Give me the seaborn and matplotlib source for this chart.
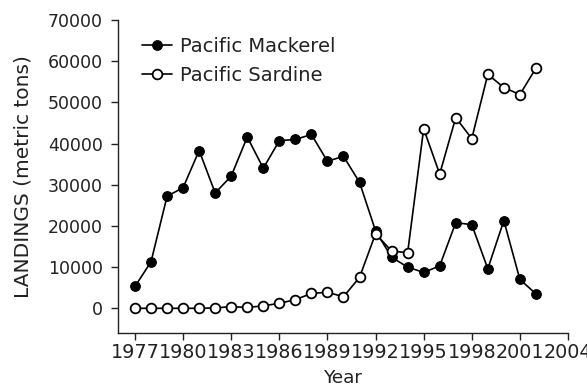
import matplotlib
matplotlib.use("Agg")
import matplotlib.pyplot as plt
import seaborn as sns
import pandas as pd

years = list(range(1977, 2003))
mackerel = [5300, 11300, 27200, 29300, 38300, 28000, 32100, 41600, 34000, 40700,
            41000, 42200, 35700, 36900, 30600, 18800, 12400, 10000, 8700, 10300,
            20800, 20300, 9600, 21300, 7000, 3500]
sardine = [0, 0, 0, 0, 0, 100, 400, 200, 600, 1200,
           2100, 3600, 3900, 2800, 7500, 18100, 13900, 13500, 43600, 32600,
           46300, 41200, 56800, 53600, 51900, 58300]
xticks = [1977, 1980, 1983, 1986, 1989, 1992, 1995, 1998, 2001, 2004]
yticks = [0, 10000, 20000, 30000, 40000, 50000, 60000, 70000]

sns.set_style("ticks")
plt.rcParams["font.family"] = ["DejaVu Sans"]
INK = "#222222"

df = pd.DataFrame({"Year": years, "Pacific Mackerel": mackerel, "Pacific Sardine": sardine})

W, H = 587, 389
fig = plt.figure(figsize=(W / 100, H / 100), dpi=100)
ax = fig.add_axes([118 / W, (H - 333) / H, (568 - 118) / W, (333 - 20) / H])

sns.lineplot(data=df, x="Year", y="Pacific Mackerel", ax=ax, color="black", lw=1.2,
             marker="o", markersize=7, markerfacecolor="black", markeredgecolor="black",
             label="Pacific Mackerel")
sns.lineplot(data=df, x="Year", y="Pacific Sardine", ax=ax, color="black", lw=1.2,
             marker="o", markersize=7, markerfacecolor="white", markeredgecolor="black",
             markeredgewidth=1.3, label="Pacific Sardine")

ax.set_xlim(1975.94, 2004)
ax.set_ylim(-6000, 70000)
ax.set_xticks(xticks)
ax.set_yticks(yticks)
ax.tick_params(axis="y", labelsize=12.5, length=5, width=1, color=INK, labelcolor=INK, pad=6)
ax.tick_params(axis="x", labelsize=13.8, length=5, width=1, color=INK, labelcolor=INK, pad=2)
ax.set_xlabel("Year", fontsize=13.2, color=INK, labelpad=5)
ax.set_ylabel("LANDINGS (metric tons)", fontsize=14.5, color=INK, labelpad=11)
for s in ("top", "right"):
    ax.spines[s].set_visible(False)
for s in ("left", "bottom"):
    ax.spines[s].set_linewidth(1)
    ax.spines[s].set_color(INK)

leg = ax.legend(loc="upper left", bbox_to_anchor=(142 / W, (H - 37) / H),
                bbox_transform=fig.transFigure, frameon=False, fontsize=14,
                handlelength=1.55, handletextpad=0.4, labelspacing=0.5,
                borderpad=0, borderaxespad=0)
for t in leg.get_texts():
    t.set_color(INK)

fig.savefig("out.png", dpi=100)
